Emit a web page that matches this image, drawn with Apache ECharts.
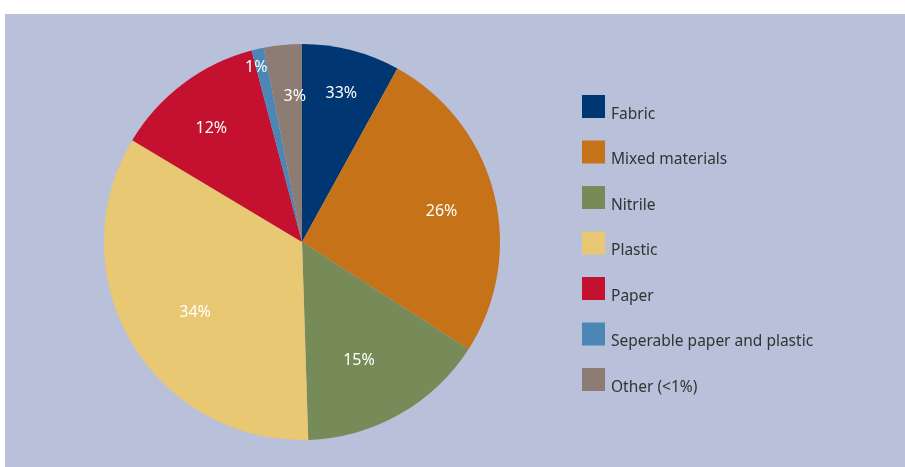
<!DOCTYPE html>
<html>
<head>
<meta charset="utf-8">
<script src="https://cdn.jsdelivr.net/npm/echarts@6/dist/echarts.min.js"></script>
<style>
  html, body { margin: 0; padding: 0; background: #fff; }
  #panel { position: absolute; left: 5px; top: 14px; width: 900px; height: 453px; background: #b8c0da; }
  #chart { position: absolute; left: 0; top: 0; width: 905px; height: 467px; }
</style>
</head>
<body>
<div id="panel"></div>
<div id="chart"></div>
<script>
// slice sizes as drawn (share of the circle)
const categories = ['Fabric', 'Mixed materials', 'Nitrile', 'Plastic', 'Paper', 'Seperable paper and plastic', 'Other (<1%)']
const values = [8.0, 26.1, 15.4, 34.1, 12.3, 1.0, 3.1]
// printed labels (as in the source picture)
const labels = ['33%', '26%', '15%', '34%', '12%', '1%', '3%']
const colors = ['#003671', '#c57218', '#778b58', '#e8c872', '#c4112f', '#4c86b4', '#8d7c74']

const chart = echarts.init(document.getElementById('chart'))

// small nudges so the printed labels sit where the original put them
const nudge = {
  0: { dx: 3, dy: -7 },
  1: { dx: -2, dy: 5 },
  2: { dx: -15, dy: -9 },
  3: { dx: 19, dy: -3 },
  4: { dx: -3, dy: 3 },
  5: { dx: -13, dy: -32 },
  6: { dx: 7, dy: 0 }
}

chart.setOption({
  animation: false,
  color: colors,
  legend: {
    orient: 'vertical',
    left: 582,
    top: 90.5,
    padding: 0,
    itemWidth: 23,
    itemHeight: 23,
    itemGap: 13.5,
    icon: 'rect',
    selectedMode: false,
    data: categories,
    // empty first line pushes the name below the swatch centre, as in the original
    formatter: name => '\n' + name,
    textStyle: {
      fontFamily: 'Noto Sans',
      fontSize: 15.5,
      lineHeight: 16,
      color: '#333',
      padding: [0, 0, 0, 1]
    }
  },
  series: [
    {
      type: 'pie',
      center: [302, 242],
      radius: [0, 198],
      startAngle: 90,
      clockwise: true,
      silent: true,
      label: { show: false },
      labelLine: { show: false },
      itemStyle: { borderWidth: 0 },
      data: categories.map((name, i) => ({ name: name, value: values[i] }))
    },
    {
      // transparent overlay only used to place the printed labels
      type: 'pie',
      center: [302, 242],
      radius: [88, 198],
      startAngle: 90,
      clockwise: true,
      silent: true,
      legendHoverLink: false,
      itemStyle: { color: 'rgba(0,0,0,0)', borderWidth: 0 },
      label: {
        show: true,
        position: 'inside',
        color: '#fff',
        fontFamily: 'Noto Sans',
        fontSize: 16,
        formatter: p => labels[p.dataIndex]
      },
      labelLine: { show: false },
      labelLayout: p => Object.assign({ hideOverlap: false }, nudge[p.dataIndex]),
      data: categories.map((name, i) => ({ name: name + ' ', value: values[i] }))
    }
  ]
})
</script>
</body>
</html>
